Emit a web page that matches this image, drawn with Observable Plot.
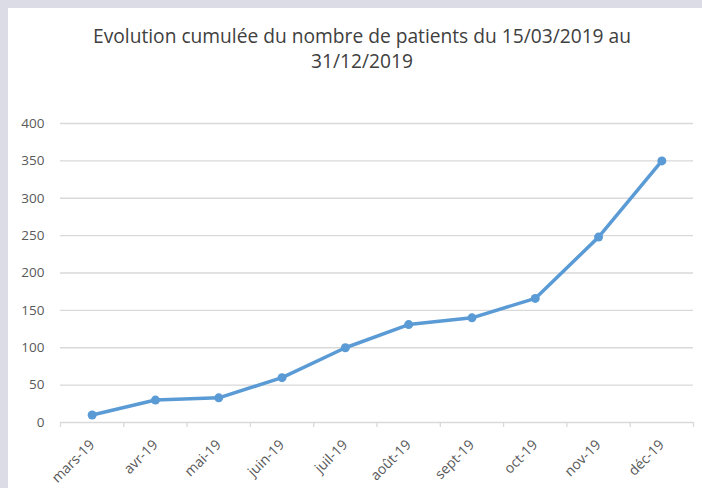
<!DOCTYPE html>
<html>
<head>
<meta charset="utf-8">
<script src="https://cdn.jsdelivr.net/npm/d3@7"></script>
<script src="https://cdn.jsdelivr.net/npm/@observablehq/plot@0.6"></script>
<style>
  html, body { margin: 0; padding: 0; }
  body { width: 702px; height: 488px; background: #dcdce6; position: relative; overflow: hidden; }
  #panel { position: absolute; left: 8px; top: 8px; width: 694px; height: 480px; background: #ffffff; }
  #title { position: absolute; left: 14px; top: 15px; width: 680px; text-align: center;
    font-family: "Open Sans", "Liberation Sans", sans-serif; font-size: 19.2px; line-height: 25px; color: #404040; }
  #chart { position: absolute; left: 0; top: 0; }
</style>
</head>
<body>
<div id="panel">
  <div id="title">Evolution cumulée du nombre de patients du 15/03/2019 au<br>31/12/2019</div>
  <div id="chart"></div>
</div>
<script>
const months = ["mars-19", "avr-19", "mai-19", "juin-19", "juil-19", "août-19", "sept-19", "oct-19", "nov-19", "déc-19"];
const patients = [10, 30, 33, 60, 100, 131, 140, 166, 248, 350];
const yTicks = [0, 50, 100, 150, 200, 250, 300, 350, 400];

const data = months.map((m, i) => ({i: i + 0.5, month: m, value: patients[i]}));
const blue = "#5b9bd5";

const chart = Plot.plot({
  width: 694,
  height: 480,
  marginTop: 115,
  marginBottom: 66,
  marginLeft: 52,
  marginRight: 9,
  style: {fontFamily: "Open Sans, Liberation Sans, sans-serif", fontSize: "13px", color: "#595959", background: "transparent"},
  x: {domain: [0, months.length], label: null},
  y: {domain: [0, 400], label: null},
  marks: [
    Plot.gridY(yTicks, {stroke: "#d9d9d9", strokeOpacity: 1, strokeWidth: 1.3}),
    Plot.axisY(yTicks, {tickSize: 0, tickPadding: 16, fill: "#595959", fontSize: 13.5, label: null}),
    Plot.axisX(d3.range(0, months.length + 1), {tickSize: 5, tickFormat: () => "", stroke: "#d9d9d9", strokeWidth: 1.3, label: null}),
    Plot.axisX(data.map(d => d.i), {tickSize: 0, tickPadding: 20, tickRotate: -45, tickFormat: v => months[Math.floor(v)], fill: "#595959", fontSize: 14, label: null}),
    Plot.line(data, {x: "i", y: "value", stroke: blue, strokeWidth: 3.5}),
    Plot.dot(data, {x: "i", y: "value", fill: blue, r: 4.5})
  ]
});
document.getElementById("chart").appendChild(chart);
</script>
</body>
</html>
